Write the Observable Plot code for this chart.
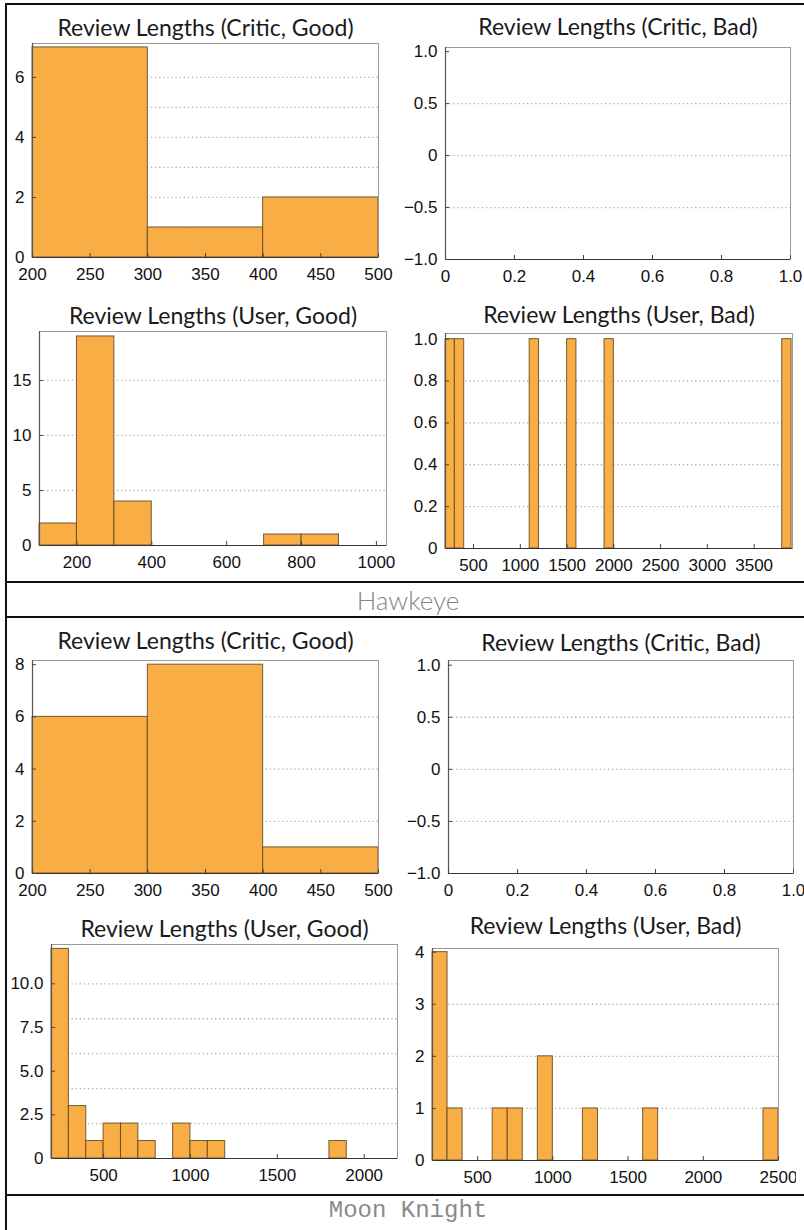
<!DOCTYPE html>
<html>
<head>
<meta charset="utf-8">
<script src="https://cdn.jsdelivr.net/npm/d3@7"></script>
<script src="https://cdn.jsdelivr.net/npm/@observablehq/plot@0.6"></script>
<style>
  html, body { margin: 0; padding: 0; background: #fff; }
  #page { position: relative; width: 804px; height: 1230px; overflow: hidden; background: #fff; }
  .panel { position: absolute; }
  .panel svg { max-width: none !important; }
  .hline { position: absolute; background: #111; height: 2px; z-index: 5; }
  .vline { position: absolute; background: #111; width: 2px; z-index: 5; }
  .show { position: absolute; left: 6px; width: 804px; text-align: center; color: #777; z-index: 5; }
</style>
</head>
<body>
<div id="page"></div>
<script>
// ---- Review-length histograms (bin start, count); every bin is 100 characters wide
const binWidth = 100;

// Hawkeye
const hawkeyeCriticGoodStarts = [200, 300, 400];
const hawkeyeCriticGoodCounts = [7, 1, 2];
const hawkeyeCriticBadStarts = [];
const hawkeyeCriticBadCounts = [];
const hawkeyeUserGoodStarts = [100, 200, 300, 700, 800];
const hawkeyeUserGoodCounts = [2, 19, 4, 1, 1];
const hawkeyeUserBadStarts = [200, 300, 1100, 1500, 1900, 3800];
const hawkeyeUserBadCounts = [1, 1, 1, 1, 1, 1];

// Moon Knight
const moonCriticGoodStarts = [200, 300, 400];
const moonCriticGoodCounts = [6, 8, 1];
const moonCriticBadStarts = [];
const moonCriticBadCounts = [];
const moonUserGoodStarts = [200, 300, 400, 500, 600, 700, 900, 1000, 1100, 1800];
const moonUserGoodCounts = [12, 3, 1, 2, 2, 1, 2, 1, 1, 1];
const moonUserBadStarts = [200, 300, 600, 700, 900, 1200, 1600, 2400];
const moonUserBadCounts = [4, 1, 1, 1, 2, 1, 1, 1];

// ---- Tick values and their labels
const criticXTicks = [200, 250, 300, 350, 400, 450, 500];
const criticXLabels = ["200", "250", "300", "350", "400", "450", "500"];
const emptyXTicks = [0, 0.2, 0.4, 0.6, 0.8, 1];
const emptyXLabels = ["0", "0.2", "0.4", "0.6", "0.8", "1.0"];
const emptyYTicks = [-1, -0.5, 0, 0.5, 1];
const emptyYLabels = ["\u22121.0", "\u22120.5", "0", "0.5", "1.0"];
const emptyGrid = [-0.5, 0, 0.5];

const hawkeyeCriticGoodYTicks = [0, 2, 4, 6];
const hawkeyeCriticGoodYLabels = ["0", "2", "4", "6"];
const hawkeyeCriticGoodGrid = [1, 2, 3, 4, 5, 6];

const hawkeyeUserGoodXTicks = [200, 400, 600, 800, 1000];
const hawkeyeUserGoodXLabels = ["200", "400", "600", "800", "1000"];
const hawkeyeUserGoodYTicks = [0, 5, 10, 15];
const hawkeyeUserGoodYLabels = ["0", "5", "10", "15"];
const hawkeyeUserGoodGrid = [5, 10, 15];

const hawkeyeUserBadXTicks = [500, 1000, 1500, 2000, 2500, 3000, 3500];
const hawkeyeUserBadXLabels = ["500", "1000", "1500", "2000", "2500", "3000", "3500"];
const hawkeyeUserBadYTicks = [0, 0.2, 0.4, 0.6, 0.8, 1];
const hawkeyeUserBadYLabels = ["0", "0.2", "0.4", "0.6", "0.8", "1.0"];
const hawkeyeUserBadGrid = [0.2, 0.4, 0.6, 0.8];

const moonCriticGoodYTicks = [0, 2, 4, 6, 8];
const moonCriticGoodYLabels = ["0", "2", "4", "6", "8"];
const moonCriticGoodGrid = [2, 4, 6];

const moonUserGoodXTicks = [500, 1000, 1500, 2000];
const moonUserGoodXLabels = ["500", "1000", "1500", "2000"];
const moonUserGoodYTicks = [0, 2.5, 5, 7.5, 10];
const moonUserGoodYLabels = ["0", "2.5", "5.0", "7.5", "10.0"];
const moonUserGoodGrid = [2, 4, 6, 8, 10];

const moonUserBadXTicks = [500, 1000, 1500, 2000, 2500];
const moonUserBadXLabels = ["500", "1000", "1500", "2000", "2500"];
const moonUserBadYTicks = [0, 1, 2, 3, 4];
const moonUserBadYLabels = ["0", "1", "2", "3", "4"];
const moonUserBadGrid = [1, 2, 3];

const titles = {
  criticGood: "Review Lengths (Critic, Good)",
  criticBad: "Review Lengths (Critic, Bad)",
  userGood: "Review Lengths (User, Good)",
  userBad: "Review Lengths (User, Bad)"
};
const shows = ["Hawkeye", "Moon Knight"];

// ---- Layout of the panels on the page: frame [left, right, top, bottom] and title baseline
const panels = [
  { title: titles.criticGood, starts: hawkeyeCriticGoodStarts, counts: hawkeyeCriticGoodCounts,
    frame: [32, 378, 43, 257], titleBase: 35, xDomain: [200, 500], yDomain: [0, 7.13],
    xTicks: criticXTicks, xLabels: criticXLabels, yTicks: hawkeyeCriticGoodYTicks, yLabels: hawkeyeCriticGoodYLabels, grid: hawkeyeCriticGoodGrid },
  { title: titles.criticBad, starts: hawkeyeCriticBadStarts, counts: hawkeyeCriticBadCounts,
    frame: [445, 790, 47, 259], titleBase: 34, xDomain: [0, 1], yDomain: [-1, 1.04],
    xTicks: emptyXTicks, xLabels: emptyXLabels, yTicks: emptyYTicks, yLabels: emptyYLabels, grid: emptyGrid },
  { title: titles.userGood, starts: hawkeyeUserGoodStarts, counts: hawkeyeUserGoodCounts,
    frame: [39, 386, 331, 545], titleBase: 323, xDomain: [100, 1027], yDomain: [0, 19.45],
    xTicks: hawkeyeUserGoodXTicks, xLabels: hawkeyeUserGoodXLabels, yTicks: hawkeyeUserGoodYTicks, yLabels: hawkeyeUserGoodYLabels, grid: hawkeyeUserGoodGrid },
  { title: titles.userBad, starts: hawkeyeUserBadStarts, counts: hawkeyeUserBadCounts,
    frame: [445, 792, 333, 548], titleBase: 322, xDomain: [200, 3910], yDomain: [0, 1.027],
    xTicks: hawkeyeUserBadXTicks, xLabels: hawkeyeUserBadXLabels, yTicks: hawkeyeUserBadYTicks, yLabels: hawkeyeUserBadYLabels, grid: hawkeyeUserBadGrid },
  { title: titles.criticGood, starts: moonCriticGoodStarts, counts: moonCriticGoodCounts,
    frame: [32, 378, 660, 873], titleBase: 648, xDomain: [200, 500], yDomain: [0, 8.16],
    xTicks: criticXTicks, xLabels: criticXLabels, yTicks: moonCriticGoodYTicks, yLabels: moonCriticGoodYLabels, grid: moonCriticGoodGrid },
  { title: titles.criticBad, starts: moonCriticBadStarts, counts: moonCriticBadCounts,
    frame: [448, 793, 660, 873], titleBase: 650, xDomain: [0, 1], yDomain: [-1, 1.045],
    xTicks: emptyXTicks, xLabels: emptyXLabels, yTicks: emptyYTicks, yLabels: emptyYLabels, grid: emptyGrid },
  { title: titles.userGood, starts: moonUserGoodStarts, counts: moonUserGoodCounts,
    frame: [51, 397, 944, 1158], titleBase: 936, xDomain: [200, 2192], yDomain: [0, 12.25],
    xTicks: moonUserGoodXTicks, xLabels: moonUserGoodXLabels, yTicks: moonUserGoodYTicks, yLabels: moonUserGoodYLabels, grid: moonUserGoodGrid },
  { title: titles.userBad, starts: moonUserBadStarts, counts: moonUserBadCounts,
    frame: [432, 778, 948, 1160], titleBase: 933, xDomain: [200, 2500], yDomain: [0, 4.07],
    xTicks: moonUserBadXTicks, xLabels: moonUserBadXLabels, yTicks: moonUserBadYTicks, yLabels: moonUserBadYLabels, grid: moonUserBadGrid }
];

const page = document.getElementById("page");
const ML = 56, MR = 18, MT = 46, MB = 34;
const TITLE_SIZE = 23;
const TICK_SIZE = 17;
const tickFont = "'Liberation Sans', Arial, sans-serif";

for (const p of panels) {
  const [l, r, t, b] = p.frame;
  const bins = p.starts.map((s, i) => ({ x1: s, x2: s + binWidth, count: p.counts[i] }));
  const xLab = new Map(p.xTicks.map((v, i) => [v, p.xLabels[i]]));
  const yLab = new Map(p.yTicks.map((v, i) => [v, p.yLabels[i]]));

  const chart = Plot.plot({
    width: (r - l) + ML + MR,
    height: (b - t) + MT + MB,
    marginLeft: ML, marginRight: MR, marginTop: MT, marginBottom: MB,
    style: { background: "transparent", fontFamily: tickFont, fontSize: TICK_SIZE + "px", color: "#111" },
    x: { domain: p.xDomain },
    y: { domain: p.yDomain },
    marks: [
      Plot.ruleY(p.grid, { stroke: "#b0b0b0", strokeWidth: 1.3, strokeDasharray: "1.3,2.8" }),
      Plot.rectY(bins, { x1: "x1", x2: "x2", y: "count", fill: "#f8ae44", stroke: "#5e4423", strokeOpacity: 0.85, strokeWidth: 1, inset: 0 }),
      Plot.frame({ stroke: "#9a9a9a", strokeWidth: 1 }),
      Plot.ruleX([p.xDomain[0]], { stroke: "#555", strokeWidth: 1.2 }),
      Plot.ruleY([p.yDomain[0]], { stroke: "#333", strokeWidth: 1.2 }),
      Plot.axisX(p.xTicks, { anchor: "bottom", tickSize: -4, tickPadding: 14.5, stroke: "#444",
        fontSize: TICK_SIZE, fontFamily: tickFont, fill: "#111",
        tickFormat: d => xLab.get(d), label: null }),
      Plot.axisY(p.yTicks, { anchor: "left", tickSize: -4, tickPadding: 12, stroke: "#444",
        fontSize: TICK_SIZE, fontFamily: tickFont, fill: "#111",
        tickFormat: d => yLab.get(d), label: null }),
      Plot.text([p.title], { frameAnchor: "top", lineAnchor: "middle",
        dy: (p.titleBase - t) - 0.32 * TITLE_SIZE,
        fontFamily: "Lato, 'Noto Sans', sans-serif", fontSize: TITLE_SIZE, fill: "#1a1a1a" })
    ]
  });

  const holder = document.createElement("div");
  holder.className = "panel";
  holder.style.left = (l - ML) + "px";
  holder.style.top = (t - MT) + "px";
  holder.style.width = ((r - l) + ML + MR) + "px";
  holder.appendChild(chart);
  page.appendChild(holder);
}

// ---- Table rules and show names
function line(cls, x, y, len) {
  const d = document.createElement("div");
  d.className = cls;
  d.style.left = x + "px";
  d.style.top = y + "px";
  if (cls === "hline") d.style.width = len + "px"; else d.style.height = len + "px";
  page.appendChild(d);
}
line("vline", 5, 3, 1230);
line("hline", 5, 3, 810);
line("hline", 5, 581, 810);
line("hline", 5, 616, 810);
line("hline", 5, 1194, 810);

const hk = document.createElement("div");
hk.className = "show";
hk.textContent = shows[0];
hk.style.top = "584px";
hk.style.height = "32px";
hk.style.lineHeight = "32px";
hk.style.font = "300 26px Lato, 'Noto Sans', sans-serif";
hk.style.color = "#858585";
page.appendChild(hk);

const mk = document.createElement("div");
mk.className = "show";
mk.textContent = shows[1];
mk.style.top = "1197px";
mk.style.height = "30px";
mk.style.lineHeight = "30px";
mk.style.font = "24px 'Liberation Mono', 'DejaVu Sans Mono', monospace";
mk.style.color = "#8a8a8a";
page.appendChild(mk);
</script>
</body>
</html>
